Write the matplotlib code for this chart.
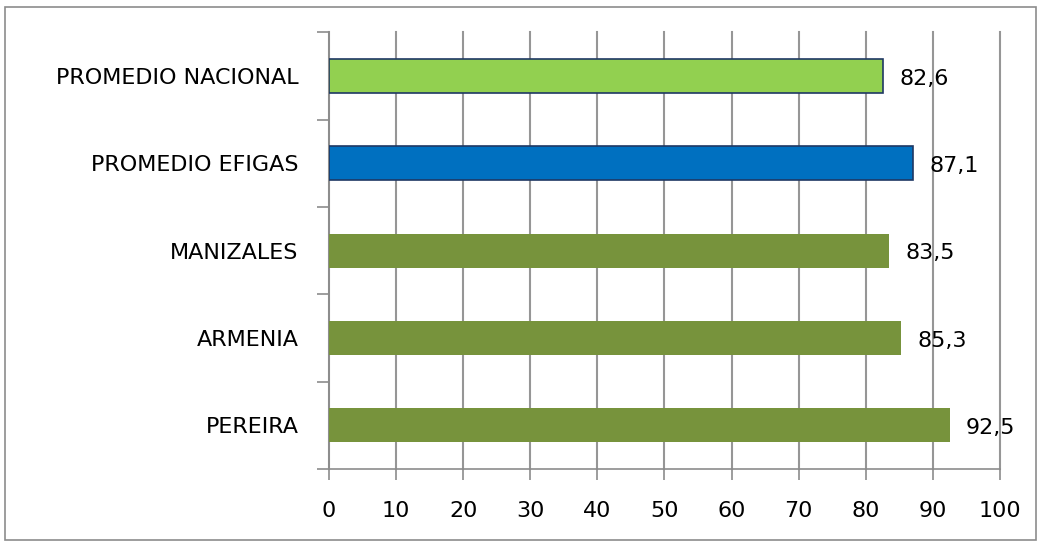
import matplotlib.pyplot as plt
import numpy as np
from matplotlib.patches import Rectangle

# datos
categorias = ['PEREIRA', 'ARMENIA', 'MANIZALES', 'PROMEDIO EFIGAS', 'PROMEDIO NACIONAL']
valores = [92.5, 85.3, 83.5, 87.1, 82.6]
colores = ['#77933C', '#77933C', '#77933C', '#0070C0', '#92D050']
bordes = ['none', 'none', 'none', '#1F3864', '#1F3864']
etiquetas = ['92,5', '85,3', '83,5', '87,1', '82,6']

plt.rcParams['font.family'] = ['DejaVu Sans']
fs = 16

fig = plt.figure(figsize=(10.41, 5.46), dpi=100)
ax = fig.add_axes([0.316, 0.141, 0.6445, 0.8])

# marco exterior
fig.patches.append(Rectangle((0.005, 0.011), 0.99, 0.976, transform=fig.transFigure,
                             fill=False, edgecolor='#8c8c8c', linewidth=1.2))

y = np.arange(len(categorias))
for i in range(len(categorias)):
    ax.barh(y[i], valores[i], height=0.39, color=colores[i],
            edgecolor=bordes[i], linewidth=1.2 if bordes[i] != 'none' else 0, zorder=3)
    ax.text(valores[i] + 2.4, y[i] - 0.03, etiquetas[i], va='center', ha='left',
            fontsize=fs, color='black', zorder=4)

ax.set_xlim(0, 100)
ax.set_ylim(-0.5, len(categorias) - 0.5)
ax.set_xticks(np.arange(0, 101, 10))
ax.set_yticks(y)
ax.set_yticklabels(categorias, fontsize=fs)
ax.set_yticks(np.arange(-0.5, len(categorias), 1), minor=True)
ax.tick_params(axis='y', which='major', length=0, pad=22)
ax.tick_params(axis='y', which='minor', length=9, color='#8c8c8c', width=1.2)
ax.tick_params(axis='x', length=8, color='#8c8c8c', width=1.2, labelsize=fs, pad=15)

ax.grid(axis='x', color='#969696', linewidth=1.5, zorder=0)
for gl in ax.get_xgridlines():
    gl.set_clip_on(False)
ax.set_axisbelow(True)
for s in ['top', 'right']:
    ax.spines[s].set_visible(False)
for s in ['left', 'bottom']:
    ax.spines[s].set_color('#8c8c8c')
    ax.spines[s].set_linewidth(1.2)

plt.savefig('out.png', dpi=100)
